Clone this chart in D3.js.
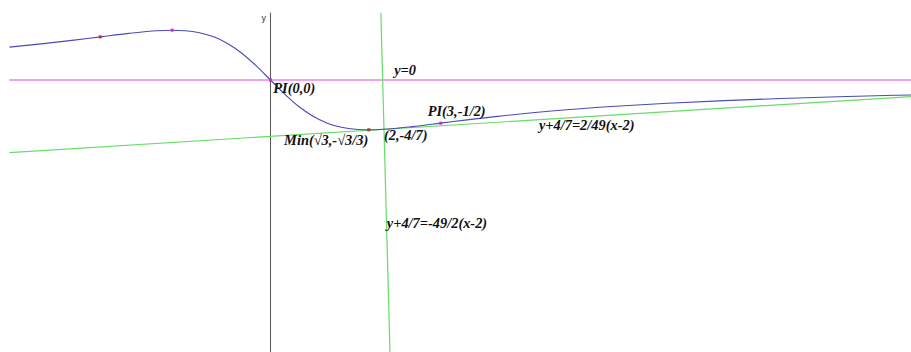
<!DOCTYPE html>
<html>
<head>
<meta charset="utf-8">
<script src="https://cdn.jsdelivr.net/npm/d3@7"></script>
<style>
  html, body { margin: 0; padding: 0; background: #fff; }
  svg { display: block; }
</style>
</head>
<body>
<svg id="chart" width="911" height="352"></svg>
<script>
// Curve y = f(x)
const curveX = [-4.6, -4, -3.5, -3, -2.5, -2, -1.75, -1.5, -1.25, -1, -0.75, -0.5, -0.25, 0, 0.25, 0.5, 0.75, 1, 1.25, 1.5, 1.75, 2, 2.5, 3, 3.5, 4, 5, 6, 7, 8, 9, 10, 11, 11.3];
const curveY = [0.3808, 0.4211, 0.4590, 0.5, 0.5405, 0.5714, 0.5773, 0.5714, 0.5479, 0.5, 0.4211, 0.3077, 0.1633, 0, -0.1633, -0.3077, -0.4211, -0.5, -0.5479, -0.5714, -0.5773, -0.5714, -0.5405, -0.5, -0.4590, -0.4211, -0.3571, -0.3077, -0.2692, -0.2388, -0.2143, -0.1942, -0.1774, -0.1729];

// Straight lines (end points)
const zeroLineX = [-4.6, 11.3];
const zeroLineY = [0, 0];
const tangentX = [-4.6, 11.3];
const tangentY = [-0.8408, -0.1918];
const normalX = [1.9448, 2.10566];
const normalY = [0.78, -3.16];
const yAxisX = [0, 0];
const yAxisY = [0.78, -3.16];

// Marked points
const markX = [-3, -1.732, 0, 1.732, 3];
const markY = [0.5, 0.5773, 0, -0.5773, -0.5];
const markColor = ["#dd2222", "#dd22dd", "#dd22dd", "#aa3333", "#dd22dd"];

// Labels
const labelText = ["y=0", "PI(0,0)", "Min(\u221A3,-\u221A3/3)", "(2,-4/7)", "PI(3,-1/2)", "y+4/7=2/49(x-2)", "y+4/7=-49/2(x-2)"];
const labelX = [2.18, 0.05, 0.24, 2.0, 2.77, 4.73, 2.05];
const labelY = [0.06, -0.15, -0.75, -0.69, -0.42, -0.58, -1.71];

const W = 911, H = 352;
const svg = d3.select("#chart");
const x = d3.scaleLinear().domain([-4.766, 11.286]).range([0, W]);
const y = d3.scaleLinear().domain([0.927, -3.152]).range([0, H]);

const line = d3.line().x(d => x(d[0])).y(d => y(d[1]));
const pairs = (xs, ys) => xs.map((v, i) => [v, ys[i]]);

// y axis
svg.append("path").attr("d", line(pairs(yAxisX, yAxisY)))
  .attr("stroke", "#555").attr("stroke-width", 1).attr("fill", "none");
svg.append("text").attr("x", x(0) - 9).attr("y", y(0.78) + 8)
  .attr("font-family", "Liberation Sans, Arial, sans-serif").attr("font-size", 9)
  .attr("fill", "#333").text("y");

// y = 0
svg.append("path").attr("d", line(pairs(zeroLineX, zeroLineY)))
  .attr("stroke", "#dd44dd").attr("stroke-width", 1.2).attr("fill", "none");

// tangent and normal
svg.append("path").attr("d", line(pairs(tangentX, tangentY)))
  .attr("stroke", "#66dd66").attr("stroke-width", 1.2).attr("fill", "none");
svg.append("path").attr("d", line(pairs(normalX, normalY)))
  .attr("stroke", "#66dd66").attr("stroke-width", 1.2).attr("fill", "none");

// curve
svg.append("path").attr("d", line.curve(d3.curveMonotoneX)(pairs(curveX, curveY)))
  .attr("stroke", "#4a4ab8").attr("stroke-width", 1.1).attr("fill", "none");

// marks
svg.selectAll("rect.mark").data(pairs(markX, markY)).enter().append("rect")
  .attr("class", "mark")
  .attr("x", d => x(d[0]) - 1.5).attr("y", d => y(d[1]) - 1.5)
  .attr("width", 3).attr("height", 3)
  .attr("fill", (d, i) => markColor[i]);

// labels
svg.selectAll("text.lbl").data(labelText).enter().append("text")
  .attr("class", "lbl")
  .attr("x", (d, i) => x(labelX[i])).attr("y", (d, i) => y(labelY[i]))
  .attr("font-family", "Liberation Serif, Times New Roman, serif")
  .attr("font-size", 14.4).attr("font-weight", "bold").attr("font-style", "italic")
  .attr("fill", "#111").text(d => d);
</script>
</body>
</html>
